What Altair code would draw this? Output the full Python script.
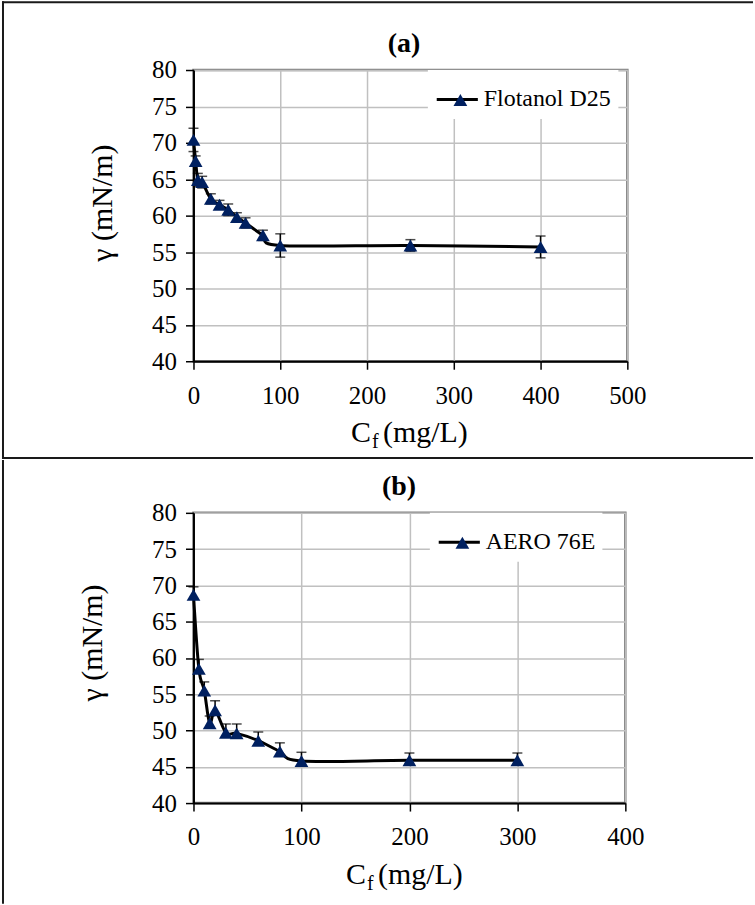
import altair as alt
import pandas as pd

# ---- data -------------------------------------------------------------
# (a) Flotanol D25: surface tension vs frother concentration
a_name = "Flotanol D25"
a_conc = [0, 2.5, 5, 10, 20, 30, 40, 50, 60, 80, 100, 250, 400]
a_gamma = [70.4, 67.5, 64.9, 64.6, 62.3, 61.5, 60.8, 59.8, 59.0, 57.3, 55.9, 55.9, 55.7]
a_err = [1.6, 0.7, 0.9, 0.8, 0.7, 0.6, 0.8, 0.6, 0.7, 0.7, 1.6, 0.8, 1.5]

# (b) AERO 76E
b_name = "AERO 76E"
b_conc = [0, 5, 10, 15, 20, 30, 40, 60, 80, 100, 200, 300]
b_gamma = [68.7, 58.5, 55.5, 51.0, 52.8, 49.7, 49.6, 48.6, 47.1, 45.8, 45.9, 45.9]
b_err = [1.1, 1.3, 1.2, 1.0, 1.3, 1.2, 1.3, 1.2, 1.2, 1.2, 1.0, 1.0]

y_ticks = [40, 45, 50, 55, 60, 65, 70, 75, 80]
a_x_ticks = [0, 100, 200, 300, 400, 500]
b_x_ticks = [0, 100, 200, 300, 400]

FONT = "Liberation Serif"
NAVY = "#002060"
ONE = pd.DataFrame({"k": [0]})


def deco_text(text, x, y, size, weight="normal", align="left", baseline="alphabetic"):
    return alt.Chart(ONE).mark_text(
        font=FONT, fontSize=size, fontWeight=weight, align=align,
        baseline=baseline, color="black",
    ).encode(x=alt.value(x), y=alt.value(y), text=alt.value(text))


def bar(x1, x2, y1, y2):
    # solid frame segment drawn as a thin filled box (pixels, plot-relative)
    return alt.Chart(ONE).mark_rect(color="#1a1a1a", strokeWidth=0).encode(
        x=alt.value(x1), x2=alt.value(x2), y=alt.value(y1), y2=alt.value(y2))


def panel(name, conc, gamma, err, x_ticks, letter, w, h, lower,
          title_x, title_y, legend_x, letter_x, ctitle_x, frame):
    df = pd.DataFrame({"conc": conc, "gamma": gamma, "err": err,
                       "series": [name] * len(conc)})
    df["hi"] = df["gamma"] + df["err"]
    df["lo"] = df["gamma"] - df["err"] if lower else df["gamma"]

    common = dict(labelFont=FONT, labelFontSize=25, labelColor="black",
                  labelFlush=False, domainColor="black", domainWidth=2,
                  tickColor="black", tickWidth=1.5, tickSize=8,
                  gridColor="#c0c0c0", gridWidth=1.5)
    x_axis = alt.Axis(values=x_ticks, title=None, labelPadding=14, **common)
    y_axis = alt.Axis(values=y_ticks, title="γ (mN/m)", labelPadding=9,
                      titleFont=FONT, titleFontSize=30,
                      titleFontWeight="normal", titleColor="black",
                      titleX=title_x, titleY=title_y, titleAngle=270,
                      titleAlign="center", titleBaseline="middle", **common)
    x_scale = alt.Scale(domain=[0, x_ticks[-1]], nice=False)
    y_scale = alt.Scale(domain=[40, 80], nice=False, zero=False)

    def X(f):
        return alt.X(f"{f}:Q", scale=x_scale, axis=x_axis)

    def Y(f):
        return alt.Y(f"{f}:Q", scale=y_scale, axis=y_axis)

    base = alt.Chart(df)
    line = base.mark_line(interpolate="cardinal", strokeWidth=3).encode(
        x=X("conc"), y=Y("gamma"),
        color=alt.Color("series:N", scale=alt.Scale(range=["black"]),
                        legend=alt.Legend(
                            orient="none", legendX=legend_x, legendY=0,
                            title=None, symbolType="stroke", symbolSize=1700,
                            symbolStrokeWidth=3, labelFont=FONT,
                            labelFontSize=24, labelColor="black",
                            labelOffset=4, padding=7, fillColor="white",
                            zindex=1)),
    )
    bars = base.mark_rule(color="black", strokeWidth=1.5).encode(
        x=X("conc"), y=Y("lo"), y2="hi:Q")
    caps = [base.mark_tick(orient="horizontal", color="black", size=10,
                           thickness=1.5).encode(x=X("conc"), y=Y("hi"))]
    if lower:
        caps.append(base.mark_tick(orient="horizontal", color="black", size=10,
                                   thickness=1.5).encode(x=X("conc"), y=Y("lo")))
    pts = base.mark_point(filled=True, size=190, color=NAVY, opacity=1,
                          strokeWidth=0).encode(
        x=X("conc"), y=Y("gamma"),
        shape=alt.Shape("series:N",
                        scale=alt.Scale(domain=[name], range=["triangle-up"]),
                        legend=alt.Legend(
                            orient="none", legendX=legend_x + 13.6,
                            legendY=11, title=None, symbolSize=190,
                            symbolFillColor=NAVY, symbolStrokeWidth=0,
                            symbolOpacity=1, labelFont=FONT, labelFontSize=24,
                            labelOpacity=0, labelOffset=4, padding=7,
                            zindex=2)),
    )

    # panel letter and subscripted x-axis title
    texts = [
        deco_text(letter, letter_x, -26, 28, weight="bold", align="center",
                  baseline="middle"),
        deco_text("C", ctitle_x, h + 81, 30),
        deco_text("f", ctitle_x + 21, h + 87, 20),
        deco_text("(mg/L)", ctitle_x + 32, h + 81, 30),
    ]
    layers = [line, bars] + caps + [pts] + texts + frame
    return alt.layer(*layers).properties(width=w, height=h)


# outer frame segments, in pixels relative to each plot area
frame_a = [
    bar(-192, 561, -69, -67),   # top edge
    bar(-192, -190, -69, 390),  # left edge
    bar(-192, 561, 388, 390),   # divider between the panels
]
frame_b = [
    bar(-192, -190, -53, 392),  # left edge
]

chart_a = panel(a_name, a_conc, a_gamma, a_err, a_x_ticks, "(a)", 435, 292,
                True, -91, 133, 235, 211, 158, frame_a)
chart_b = panel(b_name, b_conc, b_gamma, b_err, b_x_ticks, "(b)", 433, 291,
                False, -101, 130, 237, 206, 153, frame_b)

chart = alt.concat(chart_a, chart_b, columns=1, spacing=-3).resolve_scale(
    color="independent", shape="independent",
).resolve_legend(
    color="independent", shape="independent",
).properties(
    padding={"left": 0, "top": -2, "right": 0, "bottom": 0},
    autosize=alt.AutoSizeParams(type="pad"),
    background="white",
).configure_view(
    stroke="#808080", strokeWidth=2.5,
)

chart.save("out.html", embed_options={"renderer": "svg", "actions": False})
